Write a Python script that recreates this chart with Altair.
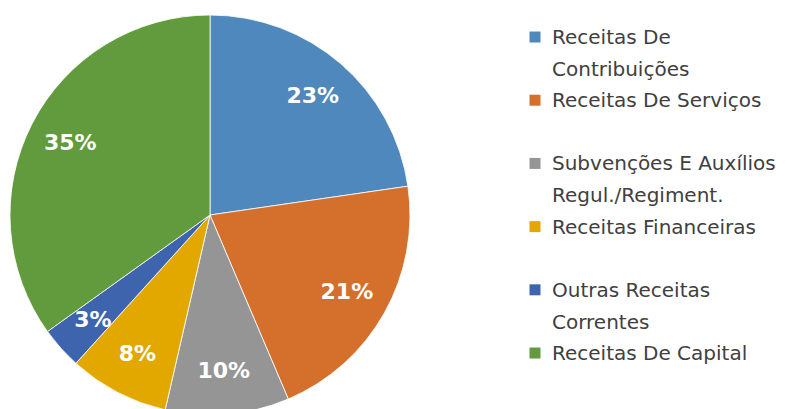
import altair as alt
import pandas as pd

categories = [
    "Receitas De\nContribuições",
    "Receitas De Serviços",
    "Subvenções E Auxílios\nRegul./Regiment.",
    "Receitas Financeiras",
    "Outras Receitas\nCorrentes",
    "Receitas De Capital",
]
values = [22.7, 20.9, 10.0, 8.1, 3.4, 34.9]
colors = ["#4F88BD", "#D4702C", "#959595", "#E2A800", "#3D64AD", "#629A3E"]

df = pd.DataFrame({"idx": list(range(len(categories))), "name": categories, "value": values})

color_scale = alt.Scale(domain=categories, range=colors)

base = alt.Chart(df).transform_calculate(
    label="format(datum.value / 100, '.0%')"
).encode(
    theta=alt.Theta("value:Q", stack=True),
    order=alt.Order("idx:Q"),
)

arcs = base.mark_arc(radius=200, stroke="white", strokeWidth=0.8).encode(
    color=alt.Color("name:N", scale=color_scale, legend=None)
)
labels = base.mark_text(
    radius=157, font="DejaVu Sans", fontWeight="bold", fontSize=22, color="white"
).encode(text="label:N")

pie = alt.layer(arcs, labels).properties(width=404, height=414)

ysc = alt.Scale(domain=[-0.459, 5.759], reverse=True)
leg_base = alt.Chart(df).encode(y=alt.Y("idx:Q", scale=ysc, axis=None))
squares = leg_base.mark_point(shape="square", filled=True, size=121, opacity=1).encode(
    x=alt.value(123),
    color=alt.Color("name:N", scale=color_scale, legend=None),
)
texts = leg_base.mark_text(
    align="left", baseline="alphabetic", dy=7, lineBreak="\n", lineHeight=32,
    font="DejaVu Sans", fontSize=20, color="#404040",
).encode(x=alt.value(140), text="name:N")
legend = alt.layer(squares, texts).properties(width=370, height=393)

chart = alt.hconcat(pie, legend, spacing=0).properties(padding=0).configure_view(stroke=None)

chart.save("out.html", embed_options={"renderer": "svg", "actions": False})
